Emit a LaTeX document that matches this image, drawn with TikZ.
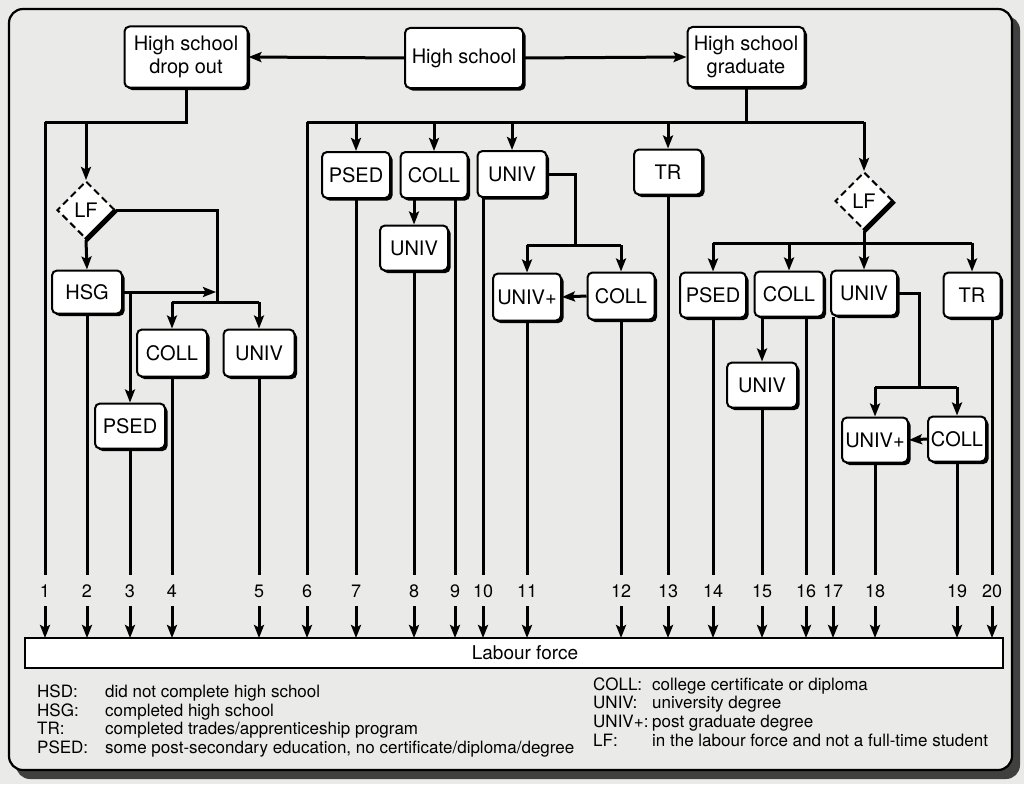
\documentclass[tikz,border=0pt]{standalone}
\usepackage{fontspec}
\setmainfont{TeX Gyre Heros}
\usetikzlibrary{arrows.meta,shapes.geometric,shadows}
\definecolor{paper}{RGB}{234,234,232}
\begin{document}
\begin{tikzpicture}[x=1pt,y=-1pt,
  conn/.style={line width=3pt},
  arr/.style={conn,-{Stealth[length=13pt,width=10pt,inset=2.5pt]}},
  box/.style={draw,line width=2pt,rounded corners=5pt,fill=white,
    minimum width=68pt,minimum height=46pt,inner sep=2pt,align=center,
    font=\fontsize{20}{23}\selectfont,
    drop shadow={shadow xshift=2.5pt,shadow yshift=-2.5pt,opacity=1,fill=black}},
  lfd/.style={diamond,draw,dash pattern=on 7pt off 4pt,line width=2pt,
    minimum width=58pt,minimum height=58pt,inner sep=0pt,fill=white,
    font=\fontsize{20}{22}\selectfont},
  lfmark/.style={line width=5pt},
  num/.style={font=\fontsize{18}{20}\selectfont,inner sep=1pt},
  leg/.style={font=\fontsize{17}{19}\selectfont,inner sep=0pt,anchor=base west}]
\useasboundingbox (0,0) rectangle (1024,784);
\fill[paper] (0,0) rectangle (1024,784);
% frame
\fill[black!75,rounded corners=14pt] (16,16) rectangle (1020,779);
\draw[line width=2.2pt,fill=paper,rounded corners=14pt] (9,9) rectangle (1012,770);

% top row
\node[box,minimum width=123pt,minimum height=61pt] (hsd) at (186,57) {High school\\drop out};
\node[box,minimum width=118pt,minimum height=60pt] (hs) at (464,58) {High school};
\node[box,minimum width=117pt,minimum height=60pt] (hsgr) at (746,57) {High school\\graduate};
\draw[arr] (hs.west) -- (hsd.east);
\draw[arr] (hs.east) -- (hsgr.west);

% ---- drop-out branch
\coordinate (jL1) at (45,122);
\coordinate (jL2) at (86,122);
\draw[conn] (hsd.south) |- (jL1);
\node[lfd] (lfA) at (86,210) {LF};
\draw[arr] (jL2) -- (lfA.north);
\draw[lfmark] (lfA.south) -- (lfA.east);
\node[box,minimum width=70pt,minimum height=43pt] (hsg) at (87,292) {HSG};
\draw[arr] (lfA.south) -- (hsg.north);
\coordinate (jA1) at (217,302);
\coordinate (jA2) at (172,302);
\coordinate (jA3) at (259,302);
\draw[conn] (lfA.east) -| (jA1);
\draw[conn] (jA2) -- (jA3);
\node[box,minimum width=70pt,minimum height=47pt] (collA) at (172,353) {COLL};
\node[box,minimum width=71pt,minimum height=47pt] (univA) at (259,353) {UNIV};
\draw[arr] (jA2) -- (collA.north);
\draw[arr] (jA3) -- (univA.north);
\coordinate (jH) at (216,292);
\coordinate (jP) at (130,292);
\draw[arr] (hsg.east) -- (jH);
\node[box,minimum width=70pt,minimum height=45pt] (psedA) at (130,426) {PSED};
\draw[arr] (jP) -- (psedA.north);

% ---- graduate branch
\coordinate (jM0) at (746,122);
\coordinate (jM6) at (307,122);
\coordinate (jMr) at (864,122);
\draw[conn] (hsgr.south) -- (jM0);
\draw[conn] (jM6) -- (jMr);
\node[box] (psedB) at (356,175) {PSED};
\node[box,minimum width=67pt] (collB) at (434,175) {COLL};
\node[box,minimum width=69pt] (univB) at (512,174) {UNIV};
\node[box,minimum height=45pt] (trB) at (668,172) {TR};
\draw[arr] (jM6 -| psedB) -- (psedB.north);
\draw[arr] (jM6 -| collB) -- (collB.north);
\draw[arr] (jM6 -| univB) -- (univB.north);
\draw[arr] (jM6 -| trB) -- (trB.north);
\node[box,minimum height=45pt] (univB2) at (414,248) {UNIV};
\draw[arr] (collB.south -| univB2) -- (univB2.north);
\coordinate (jU1) at (575,245);
\coordinate (jU2) at (527,245);
\coordinate (jU3) at (621,245);
\draw[conn] (univB.east) -| (jU1);
\draw[conn] (jU2) -- (jU3);
\node[box,minimum height=47pt] (univpB) at (527,297) {UNIV+};
\node[box,minimum width=67pt,minimum height=47pt] (collB2) at (621,296) {COLL};
\draw[arr] (jU2) -- (univpB.north);
\draw[arr] (jU3) -- (collB2.north);
\draw[arr] (collB2.west) -- (univpB.east);

% ---- LF after graduation
\node[lfd] (lfB) at (864,201) {LF};
\draw[arr] (jMr) -- (lfB.north);
\draw[lfmark] (lfB.south) -- (lfB.east);
\coordinate (jR) at (864,243);
\coordinate (jR1) at (713,243);
\coordinate (jR2) at (972,243);
\draw[conn] (lfB.south) -- (jR);
\draw[conn] (jR1) -- (jR2);
\node[box,minimum width=66pt,minimum height=45pt] (psedC) at (713,295) {PSED};
\node[box,minimum width=69pt,minimum height=45pt] (collC) at (789,294) {COLL};
\node[box,minimum width=66pt,minimum height=45pt] (univC) at (864,293) {UNIV};
\node[box,minimum width=57pt,minimum height=45pt] (trC) at (972,295) {TR};
\draw[arr] (jR1) -- (psedC.north);
\draw[arr] (jR1 -| collC) -- (collC.north);
\draw[arr] (jR) -- (univC.north);
\draw[arr] (jR2) -- (trC.north);
\node[box,minimum width=70pt,minimum height=45pt] (univC2) at (762,385) {UNIV};
\draw[arr] (collC.south -| univC2) -- (univC2.north);
\coordinate (jV1) at (919,387);
\coordinate (jV2) at (875,387);
\coordinate (jV3) at (957,387);
\draw[conn] (univC.east) -| (jV1);
\draw[conn] (jV2) -- (jV3);
\node[box,minimum width=66pt,minimum height=45pt] (univpC) at (875,440) {UNIV+};
\node[box,minimum width=58pt,minimum height=45pt] (collC2) at (957,439) {COLL};
\draw[arr] (jV2) -- (univpC.north);
\draw[arr] (jV3) -- (collC2.north);
\draw[arr] (collC2.west) -- (univpC.east);

% ---- labour force
\node[draw,line width=2pt,fill=white,minimum width=978pt,minimum height=30pt,
  inner sep=0pt,font=\fontsize{19}{21}\selectfont] (labour) at (514,653) {\hspace*{22pt}Labour force};

\foreach \x/\n in {45/1,87/2,130/3,172/4,259/5,307/6,356/7,414/8,455/9,483/10,
    527/11,621/12,668/13,713/14,762/15,806/16,833/17,875/18,957/19,992/20}{
  \coordinate (e\n) at (\x,575);
  \node[num] (n\n) at (\x,591) {\n};
  \draw[arr] (\x,606) -- (\x,638);
}
\draw[conn] (jL1) -- (e1);
\draw[conn] (hsg.south) -- (e2);
\draw[conn] (psedA.south) -- (e3);
\draw[conn] (collA.south) -- (e4);
\draw[conn] (univA.south) -- (e5);
\draw[conn] (jM6) -- (e6);
\draw[conn] (psedB.south) -- (e7);
\draw[conn] (univB2.south) -- (e8);
\draw[conn] (collB.south -| e9) -- (e9);
\draw[conn] (univB.south -| e10) -- (e10);
\draw[conn] (univpB.south) -- (e11);
\draw[conn] (collB2.south) -- (e12);
\draw[conn] (trB.south) -- (e13);
\draw[conn] (psedC.south) -- (e14);
\draw[conn] (univC2.south) -- (e15);
\draw[conn] (collC.south -| e16) -- (e16);
\draw[conn] (univC.south -| e17) -- (e17);
\draw[conn] (univpC.south) -- (e18);
\draw[conn] (collC2.south) -- (e19);
\draw[conn] (trC.south -| e20) -- (e20);

% ---- legend
\node[leg] (k1) at (37,697) {HSD:};
\node[leg] (k2) at (37,716) {HSG:};
\node[leg] (k3) at (37,734) {TR:};
\node[leg] (k4) at (37,753) {PSED:};
\node[leg] (d1) at (105,697) {did not complete high school};
\node[leg] (d2) at (105,716) {completed high school};
\node[leg] (d3) at (105,734) {completed trades/apprenticeship program};
\node[leg] (d4) at (105,753) {some post-secondary education, no certificate/diploma/degree};
\node[leg] (k5) at (593,690) {COLL:};
\node[leg] (k6) at (593,708) {UNIV:};
\node[leg] (k7) at (593,727) {UNIV+:};
\node[leg] (k8) at (593,746) {LF:};
\node[leg] (d5) at (652,690) {college certificate or diploma};
\node[leg] (d6) at (652,708) {university degree};
\node[leg] (d7) at (652,727) {post graduate degree};
\node[leg] (d8) at (652,746) {in the labour force and not a full-time student};
\end{tikzpicture}
\end{document}
